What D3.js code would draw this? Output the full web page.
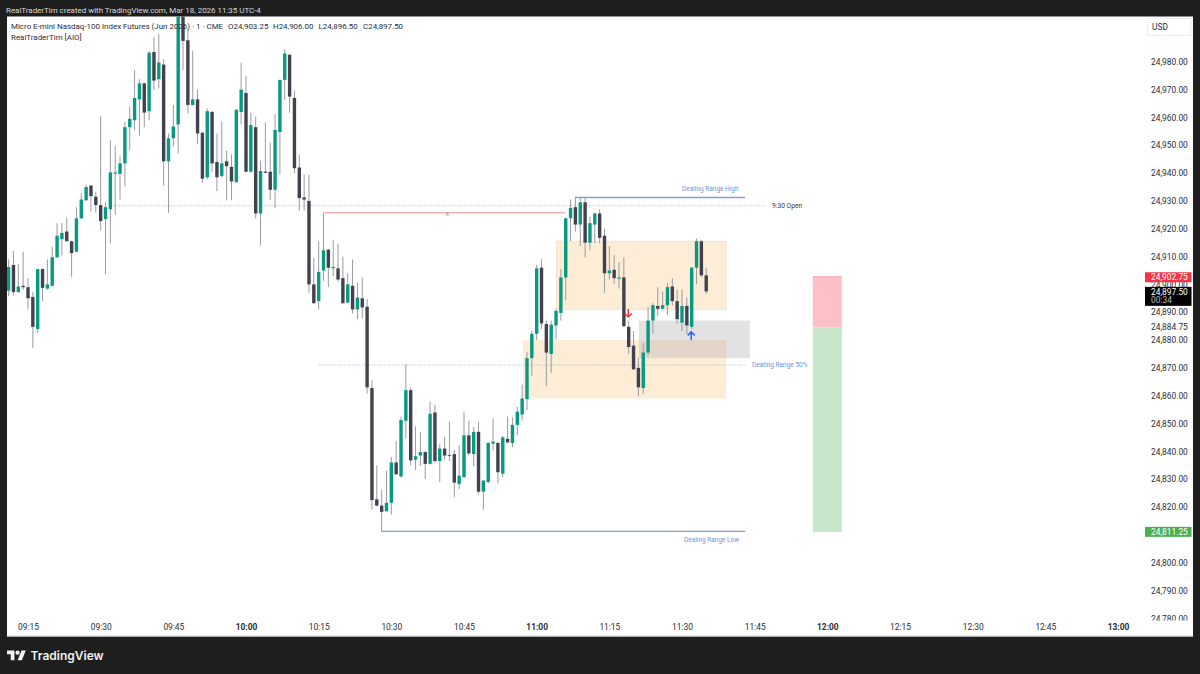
<!DOCTYPE html>
<html>
<head>
<meta charset="utf-8">
<style>
  html, body { margin: 0; padding: 0; background: #1e1e1e; overflow: hidden; }
  svg { display: block; font-family: Roboto, Inter, sans-serif; }
  .tick line, .domain { display: none; }
</style>
</head>
<body>
<script src="https://cdn.jsdelivr.net/npm/d3@7"></script>
<script>
// 1 minute bars, the first one is 09:11
const startMinute = 551;

const opens = [24897.75,24907,24897.25,24899.5,24899,24895.5,24884,24905.5,24898.5,24899.5,24909.75,24916.25,24919,24915.5,24911.75,24923.75,24930.25,24935.5,24931.5,24928.5,24923.5,24927,24940,24939.75,24943.5,24956.5,24959,24966.5,24972.25,24962.25,24983.5,24973.75,24979,24944.25,24952.5,24957.5,24998.5,24987.75,24964.5,24966.5,24954.5,24938.5,24962,24944,24939,24944.25,24942.25,24936.75,24962,24968.75,24940.5,24956.5,24925.5,24940.5,24940.5,24934,24954.75,24973.5,24982.5,24967,24942,24931.25,24930,24900,24894,24905,24912.5,24906,24905.75,24902.25,24893.5,24899.5,24891,24895,24892,24862.75,24822.75,24820.5,24818.5,24821.5,24836,24831,24851,24862,24837,24838.5,24839.75,24835.5,24854,24836.5,24841,24838.5,24839,24828.25,24830.75,24845.75,24839,24847,24825.5,24829,24842.75,24843,24832,24844.5,24843,24849.5,24853.25,24858.75,24873.5,24882.25,24906,24885.75,24875,24885.25,24889.75,24902.5,24923.75,24927.75,24921.5,24929.5,24915,24921.5,24925.5,24917.5,24904,24905.25,24902.25,24902.5,24884.75,24878,24870,24862.75,24875.5,24887,24892.25,24891.25,24892.5,24899.25,24894,24886.25,24892.25,24884.75,24906,24915.5,24903.25];
const highs = [24909,24912,24907.25,24911.75,24902.25,24897.25,24905.5,24905.75,24909,24913.5,24922,24922,24924,24915.75,24927.75,24932.75,24935.75,24935.75,24933.25,24960.5,24929.5,24951.75,24949.75,24946,24958.5,24964,24977,24973.75,24972.5,24984,24988.75,24990,24981,24954.25,24964.5,25000,25001,24992,24984,24970,24954.75,24963.25,24962.25,24954.25,24958.5,24948,24946.75,24963,24979.75,24975,24961.75,24960.25,24944.5,24958.25,24951,24961.25,24973.5,24984.5,24983,24969.75,24946.75,24939.5,24939.5,24909.5,24915.5,24925.75,24912.75,24916,24914.5,24910,24904,24909,24900.75,24902.5,24894.75,24865.5,24835,24826.25,24833,24838,24843.75,24852.5,24871.25,24863,24849,24847,24840,24858,24856.75,24842.5,24845.25,24850.75,24840.5,24842.25,24854.25,24851,24848.75,24850.5,24829.75,24843.5,24851.75,24843.5,24845.5,24852.5,24852.25,24856,24864,24875.75,24883.25,24907,24909,24887,24887,24891.25,24905.5,24924,24930.5,24931.5,24931.5,24931.5,24924.25,24925.75,24927,24920,24913.75,24910.5,24908,24909.75,24887,24883.25,24873.5,24879,24892,24893.25,24899,24897.5,24900.5,24902.25,24898,24898.25,24895.25,24906.25,24916.5,24916,24906];
const lows = [24895.75,24896,24897,24898,24891,24877.25,24882.5,24894,24898,24899.25,24909.5,24910.5,24915.5,24902.75,24911.5,24923.5,24930,24926,24925.75,24919.5,24903.75,24914.75,24925,24930.5,24935.25,24948.25,24955.5,24953.5,24956.5,24959,24969.75,24970.5,24935.5,24925.75,24949.5,24947,24977,24961.5,24964.25,24950.5,24936.5,24937.75,24940.5,24933.5,24938.5,24930.25,24930.25,24936.5,24957.5,24940.25,24940.25,24923.75,24914,24940,24930.25,24927.5,24939.5,24966.25,24961.75,24940,24926.5,24926.5,24897,24893,24891,24901.25,24899,24903,24901,24893,24893.25,24889.5,24887.5,24887.75,24860.75,24819,24820.25,24811.25,24818.25,24817.25,24831.5,24830.5,24844.5,24835,24833.25,24834.75,24830,24835.25,24836,24829,24837,24836.5,24823.5,24826.5,24830.5,24838.5,24834.75,24824.5,24819,24828.5,24840.25,24828.5,24830.75,24842.75,24841.5,24845.75,24851,24854.75,24867,24880,24884,24863.5,24868.25,24880.25,24887,24894.25,24915.5,24919,24913.75,24909.75,24912.25,24914.75,24914.75,24897,24901.75,24900.25,24898.5,24884.5,24875,24869.25,24859.75,24860.75,24874.5,24882.25,24888.5,24891,24889,24892.5,24886,24883.25,24882,24884,24900,24902.5,24896.5];
const closes = [24906.25,24897.25,24899.25,24899,24895,24884.75,24905.5,24898.75,24900,24909.75,24917.5,24918.5,24915.5,24911.25,24923.75,24930.5,24935,24931.75,24928.5,24922.75,24927.75,24940.25,24940.25,24943.5,24956.5,24959.5,24967,24972.25,24961.75,24983.25,24973.25,24979.75,24944.25,24952.5,24956.75,24998.5,24987.5,24964.5,24966.5,24954.25,24938,24962.25,24943.5,24938.5,24943.5,24942.5,24937,24962.75,24970,24940.5,24957.25,24925.5,24940.75,24940.25,24934,24955.5,24973.5,24983,24967.5,24941.75,24931,24930.5,24900,24893.25,24904.5,24912.25,24906,24906.25,24901.75,24893.25,24900,24891,24895.25,24891.75,24863,24822.5,24820.5,24818.25,24821.5,24836,24831.75,24851.25,24862,24836.75,24838.25,24839.75,24835.5,24853.5,24836.5,24841,24838.5,24838.75,24828.75,24831.25,24845.75,24839.25,24847,24825.5,24829.5,24843,24843.5,24832.5,24845,24843.25,24849.5,24854.25,24859,24873.5,24882.25,24905.75,24886,24875.5,24885.5,24890.5,24902.5,24923.75,24927.5,24921.5,24929.5,24915,24922,24925.5,24916.75,24904,24905,24902.25,24902.5,24885,24877.5,24869.5,24863,24875.5,24887,24892.5,24891.25,24892.5,24899,24894,24887.5,24892.25,24885.25,24906,24915.5,24903.25,24897.5];

const priceTicks = [24780,24790,24800,24820,24830,24840,24850,24860,24870,24880,24890,24900,24910,24920,24930,24940,24950,24960,24970,24980];
const timeTicks = [555,570,585,600,615,630,645,660,675,690,705,720,735,750,765,780];
const boldTimes = [600,660,720,780];

const w = 1200;
const h = 674;
const bg = '#1e1e1e';
const green = '#089981';
const dark = '#42424e';
const wick = '#9b9b9f';
const textColor = '#2a2e39';
const axisFont = 8.4;
const legendFont = 7.95;

const x = d3.scaleLinear().domain([555, 780]).range([28, 1118]);
const y = d3.scaleLinear().domain([24780, 24980]).range([618.3, 61.8]);

const svg = d3.select('body').append('svg').attr('width', w).attr('height', h);

svg.append('rect').attr('width', w).attr('height', h).attr('fill', bg);
svg.append('rect').attr('x', 7).attr('y', 16.5).attr('width', 1186).attr('height', 620).attr('fill', '#fff');

svg.append('clipPath').attr('id', 'plot')
  .append('rect').attr('x', 7).attr('y', 16.5).attr('width', 1140).attr('height', 620);
svg.append('clipPath').attr('id', 'scale')
  .append('rect').attr('x', 1147).attr('y', 16.5).attr('width', 46).attr('height', 604);

const plot = svg.append('g').attr('clip-path', 'url(#plot)');

// zones behind the candles
const zones = [
  { t0: 664.1, t1: 699.1, hi: 24915.5, lo: 24891, fill: '#fdecd6', stroke: '#f3e3cf' },
  { t0: 657.2, t1: 699.1, hi: 24880, lo: 24859, fill: '#fdecd6', stroke: 'none' },
  { t0: 681.1, t1: 704, hi: 24887, lo: 24873.5, fill: 'rgba(180,180,180,0.38)', stroke: 'none' },
];
plot.selectAll('.zone').data(zones).enter().append('rect')
  .attr('class', 'zone')
  .attr('x', (d) => x(d.t0))
  .attr('y', (d) => y(d.hi))
  .attr('width', (d) => x(d.t1) - x(d.t0))
  .attr('height', (d) => y(d.lo) - y(d.hi))
  .attr('fill', (d) => d.fill)
  .attr('stroke', (d) => d.stroke);

// lines
const hLine = (t0, t1, p, color, width, dash) => plot.append('line')
  .attr('x1', x(t0)).attr('x2', x(t1))
  .attr('y1', y(p)).attr('y2', y(p))
  .attr('stroke', color).attr('stroke-width', width)
  .attr('stroke-dasharray', dash);

hLine(572.75, 707.1, 24928.25, '#b9b9b9', 1, '1 1.5');
hLine(616.1, 665.9, 24925.75, '#f3b3b6', 1.4);
hLine(615.1, 703, 24871, '#a9b3d6', 1, '1 1.5');
hLine(667.9, 703, 24931.25, '#7f9fe0', 1.4);
hLine(628, 703, 24811.25, '#7f9fe0', 1.4);

// candles
const bars = d3.range(opens.length);
plot.selectAll('.wick').data(bars).enter().append('line')
  .attr('class', 'wick')
  .attr('x1', (i) => x(startMinute + i))
  .attr('x2', (i) => x(startMinute + i))
  .attr('y1', (i) => y(highs[i]))
  .attr('y2', (i) => y(lows[i]))
  .attr('stroke', wick)
  .attr('stroke-width', 1);

plot.selectAll('.body').data(bars).enter().append('rect')
  .attr('class', 'body')
  .attr('x', (i) => x(startMinute + i) - 1.7)
  .attr('width', 3.4)
  .attr('y', (i) => y(Math.max(opens[i], closes[i])))
  .attr('height', (i) => Math.max(1.2, Math.abs(y(opens[i]) - y(closes[i]))))
  .attr('fill', (i) => (closes[i] >= opens[i] ? green : dark));

// arrows
const arrow = (t, p, dir, color) => {
  const cx = x(t);
  const cy = y(p);
  plot.append('path')
    .attr('d', `M${cx},${cy - 4 * dir}V${cy + 4 * dir}M${cx - 3.5},${cy + 0.5 * dir}L${cx},${cy + 4 * dir}L${cx + 3.5},${cy + 0.5 * dir}`)
    .attr('fill', 'none').attr('stroke', color).attr('stroke-width', 1.5);
};
arrow(678.9, 24889.75, 1, '#f23645');
arrow(691.9, 24881.5, -1, '#2962ff');

// risk reward box
const rr = [
  { hi: 24902.75, lo: 24884.5, fill: '#fdc0c8' },
  { hi: 24884.5, lo: 24811, fill: '#c8e6c9' },
];
plot.selectAll('.rr').data(rr).enter().append('rect')
  .attr('class', 'rr')
  .attr('x', x(717)).attr('width', x(723) - x(717))
  .attr('y', (d) => y(d.hi))
  .attr('height', (d) => y(d.lo) - y(d.hi))
  .attr('fill', (d) => d.fill);
hLine(717, 723, 24902.75, '#f5a3ad', 1);

// drawing labels
const labels = [
  { t: 'x', px: 445.5, p: 24925.7, color: '#ee7f86', size: 7.5 },
  { t: 'Dealing Range High', px: 682, p: 24934.5, color: '#6f93dd', size: 6.5 },
  { t: '9:30 Open', px: 772, p: 24928.2, color: '#3a3a3a', size: 6.7 },
  { t: 'Dealing Range 50%', px: 752, p: 24871, color: '#6f93dd', size: 6.55 },
  { t: 'Dealing Range Low', px: 684, p: 24808.3, color: '#6f93dd', size: 6.5 },
];
plot.selectAll('.label').data(labels).enter().append('text')
  .attr('class', 'label')
  .attr('x', (d) => d.px)
  .attr('y', (d) => y(d.p))
  .attr('dy', '0.35em')
  .attr('font-size', (d) => d.size)
  .attr('fill', (d) => d.color)
  .text((d) => d.t);

// price axis
const priceAxis = d3.axisRight(y).tickValues(priceTicks).tickSize(0).tickPadding(0)
  .tickFormat(d3.format(',.2f'));
svg.append('g').attr('clip-path', 'url(#scale)')
  .append('g').attr('transform', 'translate(1151,0)').call(priceAxis)
  .call((g) => g.selectAll('text')
    .attr('font-size', axisFont).attr('font-family', 'Roboto').attr('fill', textColor));

// time axis
const timeFmt = (m) => `${String(Math.floor(m / 60)).padStart(2, '0')}:${String(m % 60).padStart(2, '0')}`;
const timeAxis = d3.axisBottom(x).tickValues(timeTicks).tickSize(0).tickPadding(0).tickFormat(timeFmt);
svg.append('g').attr('transform', 'translate(0,624)').call(timeAxis)
  .call((g) => g.selectAll('text')
    .attr('font-size', axisFont).attr('font-family', 'Roboto').attr('fill', textColor)
    .attr('font-weight', (m) => (boldTimes.includes(m) ? 700 : 400)));
svg.append('line').attr('x1', 7).attr('x2', 1193).attr('y1', 636).attr('y2', 636)
  .attr('stroke', '#cfcfcf');

// price tags on the scale
const tags = [
  { p: 24902.75, t: '24,902.75', fill: '#f23645', color: '#fff' },
  { p: 24811.25, t: '24,811.25', fill: '#4caf50', color: '#fff' },
];
const tag = svg.selectAll('.tag').data(tags).enter().append('g').attr('class', 'tag');
tag.append('rect').attr('x', 1145).attr('width', 46.5).attr('height', 10)
  .attr('y', (d) => y(d.p) - 4.5).attr('fill', (d) => d.fill);
tag.append('text').attr('x', 1151).attr('y', (d) => y(d.p) + 0.5).attr('dy', '0.35em')
  .attr('font-size', axisFont).attr('fill', (d) => d.color).text((d) => d.t);

svg.append('text').attr('x', 1151).attr('y', y(24884.75)).attr('dy', '0.35em')
  .attr('font-size', axisFont).attr('fill', textColor).text('24,884.75');

const last = svg.append('g');
last.append('rect').attr('x', 1145).attr('y', y(closes[144]) - 4.5).attr('width', 46.5).attr('height', 19).attr('fill', '#000');
last.append('text').attr('x', 1151).attr('y', y(closes[144]) + 0.5).attr('dy', '0.35em')
  .attr('font-size', axisFont).attr('fill', '#fff').text('24,897.50');
last.append('text').attr('x', 1151).attr('y', y(closes[144]) + 8.8).attr('dy', '0.35em')
  .attr('font-size', axisFont).attr('fill', '#b8b8b8').text('00:34');

// currency box
svg.append('rect').attr('x', 1147.5).attr('y', 18.5).attr('width', 43.5).attr('height', 17)
  .attr('fill', '#fff').attr('stroke', '#eceef2');
svg.append('text').attr('x', 1152).attr('y', 30).attr('font-size', axisFont).attr('fill', textColor).text('USD');

// header and legend text
svg.append('text').attr('x', 6).attr('y', 12.5).attr('font-size', legendFont).attr('fill', '#d8d8d8')
  .text('RealTraderTim created with TradingView.com, Mar 18, 2026 11:35 UTC-4');
svg.append('text').attr('x', 11).attr('y', 29).attr('font-size', legendFont).attr('fill', textColor)
  .text('Micro E-mini Nasdaq-100 Index Futures (Jun 2026) · 1 · CME');
const ohlc = [['O24,903.25', 228], ['H24,906.00', 273], ['L24,896.50', 318.5], ['C24,897.50', 363]];
svg.selectAll('.ohlc').data(ohlc).enter().append('text')
  .attr('class', 'ohlc')
  .attr('x', (d) => d[1]).attr('y', 29).attr('font-size', legendFont).attr('fill', textColor)
  .text((d) => d[0]);
svg.append('text').attr('x', 11).attr('y', 39.5).attr('font-size', legendFont).attr('fill', textColor)
  .text('RealTraderTim [AIO]');

// footer logo
const logo = svg.append('g').attr('transform', 'translate(7,648.5) scale(0.53)').attr('fill', '#f0f0f0');
logo.append('path').attr('d', 'M14 22H7V11H0V4h14v18zM28 22h-8l7.5-18h8L28 22z');
logo.append('circle').attr('cx', 20).attr('cy', 8).attr('r', 4);
svg.append('text').attr('x', 30.5).attr('y', 660).attr('font-size', 12).attr('font-weight', 600)
  .attr('font-family', 'Inter').attr('fill', '#f0f0f0').text('TradingView');
</script>
</body>
</html>
